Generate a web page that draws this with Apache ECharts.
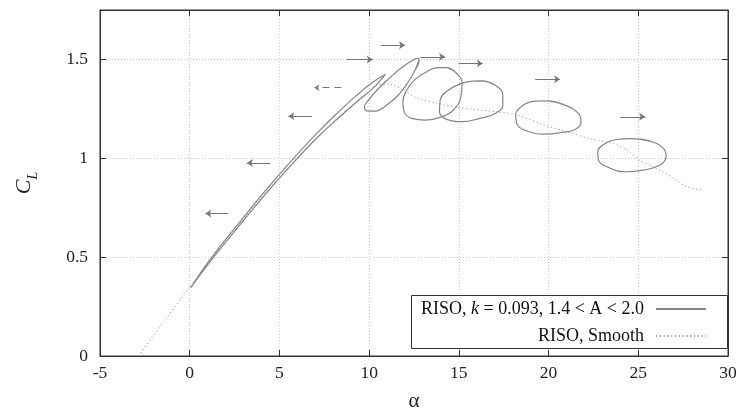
<!DOCTYPE html>
<html>
<head>
<meta charset="utf-8">
<script src="https://cdn.jsdelivr.net/npm/echarts@6/dist/echarts.min.js"></script>
<style>
  html, body { margin: 0; padding: 0; background: #fff; }
  #chart { width: 740px; height: 410px; }
</style>
</head>
<body>
<div id="chart"></div>
<script>
// Axis ranges and tick spacing
const xTicks = { min: -5, max: 30, step: 5 };
const yTicks = { min: 0, max: 1.75, step: 0.5 };

const loopName = 'RISO, k = 0.093, 1.4 < A < 2.0';
const smoothName = 'RISO, Smooth';

// Lift coefficient of the steady (smooth) RISO polar: [alpha, CL]
const smoothCurve = [
  [-2.85, 0.0], [0, 0.35], [2.5, 0.64], [5, 0.905], [7.5, 1.14], [9.5, 1.305],
  [10.3, 1.365], [11.1, 1.376], [11.9, 1.345], [12.7, 1.303], [13.8, 1.278],
  [14.7, 1.261], [15.8, 1.247], [17.1, 1.235], [18.3, 1.218], [19.7, 1.17],
  [21.0, 1.135], [22.5, 1.094], [23.6, 1.075], [24.4, 1.04], [25.1, 0.99],
  [26.0, 0.949], [27.0, 0.898], [27.7, 0.856], [28.6, 0.839]
];

// Dynamic stall hysteresis loops (closed), one per mean angle of attack.
// The first two points are repeated at the end so the curve closes smoothly.
const loopAttached = [
  [0.05, 0.345], [1.2, 0.485], [2.5, 0.63], [4, 0.795], [5.5, 0.95], [7, 1.095],
  [8.3, 1.205], [9.3, 1.285], [10.2, 1.352], [10.9, 1.424], [10.2, 1.385],
  [9.3, 1.318], [8.3, 1.235], [7, 1.118], [5.5, 0.97], [4, 0.812], [2.5, 0.645],
  [1.2, 0.497], [0.05, 0.345]
];
const loop11 = [
  [12.79, 1.500], [12.56, 1.446], [12.19, 1.387], [11.63, 1.320], [10.98, 1.269],
  [10.33, 1.239], [9.87, 1.240], [9.74, 1.261], [9.96, 1.294], [10.52, 1.353],
  [11.17, 1.409], [11.82, 1.459], [12.38, 1.493], [12.69, 1.505], [12.79, 1.500],
  [12.56, 1.446]
];
const loop13 = [
  [14.33, 1.459], [14.88, 1.429], [15.18, 1.379], [15.11, 1.311], [14.70, 1.244],
  [13.96, 1.207], [13.12, 1.193], [12.38, 1.202], [11.95, 1.235], [11.88, 1.286],
  [12.10, 1.345], [12.56, 1.399], [13.31, 1.443], [13.86, 1.459], [14.33, 1.459],
  [14.88, 1.429]
];
const loop15 = [
  [16.28, 1.392], [17.02, 1.370], [17.45, 1.320], [17.45, 1.269], [17.02, 1.227],
  [16.18, 1.202], [15.16, 1.185], [14.33, 1.197], [13.92, 1.235], [13.96, 1.294],
  [14.42, 1.345], [15.16, 1.379], [15.81, 1.390], [16.28, 1.392], [17.02, 1.370]
];
const loop20 = [
  [19.90, 1.291], [20.92, 1.269], [21.66, 1.227], [21.81, 1.185], [21.48, 1.146],
  [20.64, 1.129], [19.71, 1.122], [18.78, 1.139], [18.23, 1.173], [18.17, 1.218],
  [18.60, 1.269], [19.25, 1.289], [19.90, 1.291], [20.92, 1.269]
];
const loop24 = [
  [24.54, 1.099], [25.65, 1.087], [26.40, 1.050], [26.55, 1.008], [26.21, 0.966],
  [25.28, 0.940], [24.26, 0.932], [23.33, 0.954], [22.78, 0.991], [22.74, 1.033],
  [23.15, 1.075], [23.80, 1.095], [24.54, 1.099], [25.65, 1.087]
];
const loops = [loopAttached, loop11, loop13, loop15, loop20, loop24];

// Direction arrows: [[fromAlpha, fromCL], [toAlpha, toCL]]
const arrows = [
  [[2.15, 0.721], [0.87, 0.721]],
  [[4.49, 0.976], [3.19, 0.976]],
  [[6.80, 1.212], [5.50, 1.212]],
  [[8.76, 1.500], [10.20, 1.500]],
  [[10.65, 1.572], [12.00, 1.572]],
  [[12.84, 1.513], [14.23, 1.513]],
  [[14.98, 1.480], [16.33, 1.480]],
  [[19.25, 1.400], [20.64, 1.400]],
  [[23.98, 1.210], [25.38, 1.210]]
];
const dashedArrows = [
  [[8.45, 1.357], [6.95, 1.357]]
];

const serif = '"Liberation Serif", "DejaVu Serif", serif';
const frame = '#333';
const tickFont = 17.5;

const loopSeries = loops.map(pts => ({
  name: loopName,
  type: 'line',
  data: pts,
  smooth: 0.45,
  symbol: 'none',
  lineStyle: { color: '#858585', width: 1.2 },
  itemStyle: { color: '#858585' },
  z: 3
}));

const option = {
  backgroundColor: '#fff',
  animation: false,
  grid: {
    left: 100, right: 12, top: 10, bottom: 54,
    outerBoundsMode: 'none',
    show: true, borderColor: frame, borderWidth: 1
  },
  xAxis: [
    {
      type: 'value', min: xTicks.min, max: xTicks.max, interval: xTicks.step,
      name: 'α', nameLocation: 'middle', nameGap: 35,
      nameTextStyle: { fontFamily: serif, fontSize: 21, color: '#222' },
      axisLine: { show: true, onZero: false, lineStyle: { color: frame } },
      axisTick: { show: true, inside: true, length: 6, lineStyle: { color: frame } },
      axisLabel: { fontFamily: serif, fontSize: tickFont, color: '#222', margin: 8 },
      splitLine: { show: true, lineStyle: { color: '#c8c8c8', type: [1, 2], width: 1 } }
    },
    {
      type: 'value', position: 'top', min: xTicks.min, max: xTicks.max, interval: xTicks.step,
      axisLine: { show: true, onZero: false, lineStyle: { color: frame } },
      axisTick: { show: true, inside: true, length: 6, lineStyle: { color: frame } },
      axisLabel: { show: false },
      splitLine: { show: false }
    }
  ],
  yAxis: [
    {
      type: 'value', min: yTicks.min, max: yTicks.max, interval: yTicks.step,
      name: '{c|C}{s|L}', nameLocation: 'middle', nameGap: 65, nameRotate: 90,
      nameTextStyle: {
        color: '#222',
        rich: {
          c: { fontFamily: serif, fontStyle: 'italic', fontSize: 22, color: '#222', lineHeight: 26, verticalAlign: 'bottom' },
          s: { fontFamily: serif, fontStyle: 'italic', fontSize: 14, color: '#222', lineHeight: 26, verticalAlign: 'bottom', padding: [0, 0, -5, 0] }
        }
      },
      axisLine: { show: true, onZero: false, lineStyle: { color: frame } },
      axisTick: { show: true, inside: true, length: 6, lineStyle: { color: frame } },
      axisLabel: { fontFamily: serif, fontSize: tickFont, color: '#222', margin: 12, showMaxLabel: false },
      splitLine: { show: true, lineStyle: { color: '#c8c8c8', type: [1, 2], width: 1 } }
    },
    {
      type: 'value', position: 'right', min: yTicks.min, max: yTicks.max, interval: yTicks.step,
      axisLine: { show: true, onZero: false, lineStyle: { color: frame } },
      axisTick: { show: true, inside: true, length: 6, lineStyle: { color: frame } },
      axisLabel: { show: false },
      splitLine: { show: false }
    }
  ],
  graphic: [
    {
      type: 'rect', right: 12, top: 295,
      shape: { width: 316, height: 53 },
      style: { fill: '#fff', stroke: frame, lineWidth: 1 },
      z: 50
    }
  ],
  legend: [
    {
      data: [loopName], right: 33, top: 300, align: 'right', padding: 0,
      itemWidth: 50, itemHeight: 14, z: 60,
      itemStyle: { opacity: 0 },
      formatter: () => '{n|RISO, }{i|k}{n| = 0.093, 1.4 < A < 2.0}',
      textStyle: {
        padding: [0, 7, 0, 0],
        rich: {
          n: { fontFamily: serif, fontSize: 18, color: '#111' },
          i: { fontFamily: serif, fontSize: 18, color: '#111', fontStyle: 'italic' }
        }
      }
    },
    {
      data: [smoothName], right: 33, top: 327, align: 'right', padding: 0,
      itemWidth: 50, itemHeight: 14, z: 60,
      itemStyle: { opacity: 0 },
      textStyle: { fontFamily: serif, fontSize: 18, color: '#111', padding: [0, 7, 0, 0] }
    }
  ],
  series: [
    {
      name: smoothName,
      type: 'line',
      data: smoothCurve,
      smooth: 0.3,
      symbol: 'none',
      lineStyle: { color: '#9a9a9a', width: 1, type: [1.2, 2.6] },
      itemStyle: { color: '#9a9a9a' },
      z: 2
    },
    ...loopSeries,
    {
      name: 'arrows',
      type: 'lines',
      coordinateSystem: 'cartesian2d',
      data: arrows.map(c => ({ coords: c })),
      symbol: ['none', 'arrow'],
      symbolSize: [0, 6],
      lineStyle: { color: '#777', width: 1.2, opacity: 1, curveness: 0 },
      z: 4
    },
    {
      name: 'arrows-dashed',
      type: 'lines',
      coordinateSystem: 'cartesian2d',
      data: dashedArrows.map(c => ({ coords: c })),
      symbol: ['none', 'arrow'],
      symbolSize: [0, 5],
      lineStyle: { color: '#777', width: 1.1, opacity: 1, type: [7, 5], curveness: 0 },
      z: 4
    }
  ]
};

const chart = echarts.init(document.getElementById('chart'), null, { renderer: 'canvas' });
chart.setOption(option);
</script>
</body>
</html>
